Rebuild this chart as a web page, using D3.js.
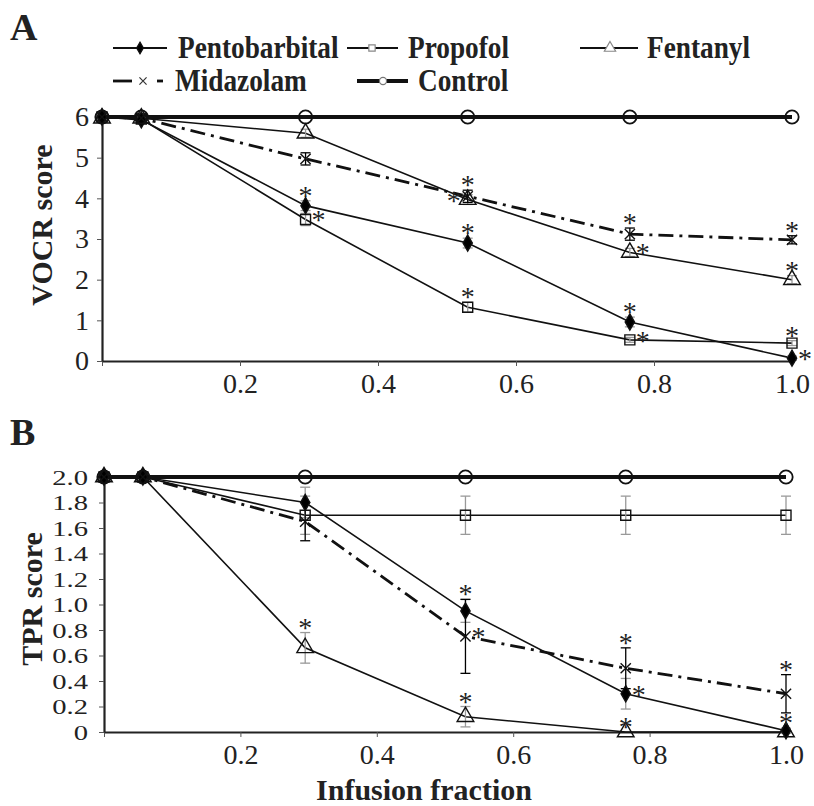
<!DOCTYPE html>
<html>
<head>
<meta charset="utf-8">
<script src="https://cdn.jsdelivr.net/npm/d3@7"></script>
<style>
  body { margin: 0; background: #fff; }
  svg { display: block; font-family: "Liberation Serif", "Times New Roman", serif; }
</style>
</head>
<body>
<svg id="chart" width="814" height="806"></svg>
<script>
// Infusion fractions (x positions shared by both panels)
const infusionFraction = [0, 0.057, 0.295, 0.53, 0.765, 1.0];
const seriesNames = ["Pentobarbital", "Propofol", "Fentanyl", "Midazolam", "Control"];

// Panel A — VOCR score (means, error)
const vocrPentobarbital = [6, 5.93, 3.82, 2.9, 0.96, 0.07];
const vocrPropofol      = [6, 5.95, 3.48, 1.32, 0.52, 0.44];
const vocrFentanyl      = [5.97, 5.97, 5.6, 3.97, 2.67, 2.0];
const vocrMidazolam     = [6, 5.97, 4.97, 4.05, 3.12, 2.98];
const vocrControl       = [6, 6, 6, 6, 6, 6];

const vocrErrPentobarbital = [0, 0.05, 0.12, 0.12, 0.12, 0.05];
const vocrErrPropofol      = [0, 0.05, 0.15, 0.12, 0.06, 0.06];
const vocrErrFentanyl      = [0, 0, 0.1, 0.12, 0.1, 0.1];
const vocrErrMidazolam     = [0, 0, 0.15, 0.15, 0.15, 0.1];

// significance marks: where the * sits relative to each point
const vocrStarPentobarbital = [null, null, "above", "above", "above", "right"];
const vocrStarPropofol      = [null, null, "right", "above", "right", "above"];
const vocrStarFentanyl      = [null, null, null, "left", "right", "above"];
const vocrStarMidazolam     = [null, null, null, "above", "above", "above"];

// Panel B — TPR score
const tprPentobarbital = [2, 2, 1.8, 0.95, 0.3, 0.01];
const tprPropofol      = [2, 2, 1.7, 1.7, 1.7, 1.7];
const tprFentanyl      = [2, 2, 0.66, 0.12, 0.0, 0.0];
const tprMidazolam     = [2, 2, 1.65, 0.75, 0.5, 0.3];
const tprControl       = [2, 2, 2, 2, 2, 2];

const tprErrPentobarbital = [0, 0, 0.12, 0.09, 0.12, 0.02];
const tprErrPropofol      = [0, 0, 0.15, 0.15, 0.15, 0.15];
const tprErrFentanyl      = [0, 0, 0.12, 0.08, 0, 0];
const tprErrMidazolam     = [0, 0, 0.15, 0.29, 0.16, 0.15];

const tprStarPentobarbital = [null, null, null, "above", "right", "above"];
const tprStarPropofol      = [null, null, null, null, null, null];
const tprStarFentanyl      = [null, null, "above", "above", "above", null];
const tprStarMidazolam     = [null, null, null, "right", "above", "above"];

const xTicks = [0, 0.2, 0.4, 0.6, 0.8, 1.0];
const vocrTicks = [0, 1, 2, 3, 4, 5, 6];
const tprTicks = [0, 0.2, 0.4, 0.6, 0.8, 1.0, 1.2, 1.4, 1.6, 1.8, 2.0];

const svg = d3.select("#chart");

// Series styles
const style = {
  Pentobarbital: { symbol: d3.symbolDiamond, size: 75, fill: "#000", width: 1.6, dash: null, err: "#999" },
  Propofol:      { symbol: d3.symbolSquare, size: 100, fill: "none", width: 1.6, dash: null, err: "#999" },
  Fentanyl:      { symbol: d3.symbolTriangle, size: 120, fill: "none", width: 1.6, dash: null, err: "#999" },
  Midazolam:     { symbol: d3.symbolX, size: 70, fill: "none", width: 2.8, dash: "15,6,3,6", err: "#000" },
  Control:       { symbol: d3.symbolCircle, size: 140, fill: "none", width: 4, dash: null, err: "#999" }
};

function buildSeries(vals, errs, stars) {
  return seriesNames.map((name, i) => ({
    name,
    values: infusionFraction.map((x, j) => ({
      x, y: vals[i][j], e: errs[i] ? errs[i][j] : 0, star: stars[i] ? stars[i][j] : null
    }))
  }));
}

function drawPanel(opts) {
  const { x, y, series, yTicks, yFormat, yFont, label } = opts;
  const g = svg.append("g");

  // axes
  const xAxis = d3.axisBottom(x).tickValues(xTicks).tickSize(5).tickSizeOuter(0).tickPadding(7)
    .tickFormat(d => d === 0 ? "" : d3.format(".1f")(d));
  const gx = g.append("g").attr("transform", `translate(0,${y.range()[0]})`).call(xAxis);
  gx.selectAll("text").attr("font-size", 28).attr("font-family", "Liberation Serif").attr("fill", "#222");

  const yAxis = d3.axisLeft(y).tickValues(yTicks).tickSize(5).tickSizeOuter(0).tickPadding(opts.yPad)
    .tickFormat(yFormat);
  const gy = g.append("g").attr("transform", `translate(${x.range()[0]},0)`).call(yAxis);
  // labels may be stretched horizontally (panel B uses tight, wide digits)
  const sx = opts.yStretch || 1;
  gy.selectAll(".tick text")
    .attr("font-size", yFont).attr("font-family", "Liberation Serif").attr("fill", "#222")
    .attr("x", -(5 + opts.yPad) / sx)
    .attr("transform", `scale(${sx},1)`);

  [gx, gy].forEach(a => {
    a.select(".domain").attr("stroke", "#222").attr("stroke-width", 2.2);
    a.selectAll(".tick line").attr("stroke", "#555").attr("stroke-width", 1);
  });

  // axis title
  g.append("text")
    .attr("transform", `translate(${opts.titleX},${opts.titleY}) rotate(-90)`)
    .attr("text-anchor", "middle")
    .attr("font-weight", "bold").attr("font-size", 30).attr("fill", "#222")
    .text(opts.title);

  // panel letter
  g.append("text").attr("x", 10).attr("y", opts.letterY)
    .attr("font-weight", "bold").attr("font-size", 38).attr("fill", "#222").text(label);

  const line = d3.line().x(d => x(d.x)).y(d => y(d.y));

  const order = ["Fentanyl", "Propofol", "Pentobarbital", "Midazolam", "Control"];
  const sorted = order.map(n => series.find(s => s.name === n));

  // lines
  g.selectAll(".series")
    .data(sorted)
    .join("path")
    .attr("class", "series")
    .attr("d", d => line(d.values))
    .attr("fill", "none")
    .attr("stroke", "#111")
    .attr("stroke-width", d => style[d.name].width)
    .attr("stroke-dasharray", d => style[d.name].dash);

  // error bars
  sorted.forEach(s => {
    const st = style[s.name];
    const withErr = s.values.filter(d => d.e > 0);
    const eg = g.append("g").attr("stroke", st.err).attr("stroke-width", 1.3);
    eg.selectAll(".bar").data(withErr).join("line")
      .attr("x1", d => x(d.x)).attr("x2", d => x(d.x))
      .attr("y1", d => y(d.y - d.e)).attr("y2", d => y(d.y + d.e));
    eg.selectAll(".capT").data(withErr).join("line")
      .attr("x1", d => x(d.x) - 5).attr("x2", d => x(d.x) + 5)
      .attr("y1", d => y(d.y + d.e)).attr("y2", d => y(d.y + d.e));
    eg.selectAll(".capB").data(withErr).join("line")
      .attr("x1", d => x(d.x) - 5).attr("x2", d => x(d.x) + 5)
      .attr("y1", d => y(d.y - d.e)).attr("y2", d => y(d.y - d.e));
  });

  // markers
  sorted.forEach(s => {
    const st = style[s.name];
    g.append("g").selectAll("path").data(s.values).join("path")
      .attr("transform", d => `translate(${x(d.x)},${y(d.y)})`)
      .attr("d", d3.symbol(st.symbol, st.size))
      .attr("fill", st.fill)
      .attr("stroke", "#111")
      .attr("stroke-width", s.name === "Control" ? 1.8 : 1.4);
  });

  // asterisks
  sorted.forEach(s => {
    const pts = s.values.filter(d => d.star);
    g.append("g").selectAll("text").data(pts).join("text")
      .attr("text-anchor", "middle")
      .attr("font-size", 28).attr("fill", "#222")
      .attr("x", d => d.star === "right" ? x(d.x) + 13 : d.star === "left" ? x(d.x) - 14 : x(d.x))
      .attr("y", d => {
        const cy = d.star === "above" ? y(d.y + d.e) - 9 : y(d.y) - 3;
        return cy + 13;
      })
      .text("*");
  });
}

// Panel A
const xA = d3.scaleLinear().domain([0, 1]).range([102, 792]);
const yA = d3.scaleLinear().domain([0, 6]).range([361, 117]);
drawPanel({
  x: xA, y: yA,
  series: buildSeries(
    [vocrPentobarbital, vocrPropofol, vocrFentanyl, vocrMidazolam, vocrControl],
    [vocrErrPentobarbital, vocrErrPropofol, vocrErrFentanyl, vocrErrMidazolam, null],
    [vocrStarPentobarbital, vocrStarPropofol, vocrStarFentanyl, vocrStarMidazolam, null]),
  yTicks: vocrTicks, yFormat: d3.format("d"), yFont: 28, yPad: 8,
  title: "VOCR score", titleX: 52, titleY: 225, label: "A", letterY: 40
});

// Panel B
const xB = d3.scaleLinear().domain([0, 1]).range([104, 786]);
const yB = d3.scaleLinear().domain([0, 2]).range([732, 477]);
drawPanel({
  x: xB, y: yB,
  series: buildSeries(
    [tprPentobarbital, tprPropofol, tprFentanyl, tprMidazolam, tprControl],
    [tprErrPentobarbital, tprErrPropofol, tprErrFentanyl, tprErrMidazolam, null],
    [tprStarPentobarbital, tprStarPropofol, tprStarFentanyl, tprStarMidazolam, null]),
  yTicks: tprTicks, yFormat: d => d === 0 ? "0" : d3.format(".1f")(d), yFont: 22, yPad: 11, yStretch: 1.3,
  title: "TPR score", titleX: 42, titleY: 599, label: "B", letterY: 445
});

// x axis title
svg.append("text").attr("x", 424).attr("y", 800).attr("text-anchor", "middle")
  .attr("font-weight", "bold").attr("font-size", 30).attr("fill", "#222")
  .text("Infusion fraction");

// Legend
const legendItems = [
  { name: "Pentobarbital", x1: 113, x2: 167, tx: 178, row: 0, mk: 140, size: 40, mcolor: "#111" },
  { name: "Propofol", x1: 347, x2: 398, tx: 408, row: 0, mk: 372, size: 40, mcolor: "#888" },
  { name: "Fentanyl", x1: 580, x2: 638, tx: 647, row: 0, mk: 610, size: 55, mcolor: "#888" },
  { name: "Midazolam", x1: 113, x2: 163, tx: 175, row: 1, mk: 143, size: 35, mcolor: "#333" },
  { name: "Control", x1: 357, x2: 408, tx: 418, row: 1, mk: 383, size: 40, mcolor: "#777" }
];
const rowY = [48, 81];
const legend = svg.append("g");
legendItems.forEach(it => {
  const st = style[it.name];
  const ly = rowY[it.row];
  if (it.name === "Midazolam") {
    legend.append("line").attr("x1", it.x1).attr("x2", it.x1 + 19).attr("y1", ly).attr("y2", ly)
      .attr("stroke", "#111").attr("stroke-width", 2.8);
    legend.append("line").attr("x1", it.x2 - 6).attr("x2", it.x2).attr("y1", ly).attr("y2", ly)
      .attr("stroke", "#111").attr("stroke-width", 2.8);
  } else {
    legend.append("line").attr("x1", it.x1).attr("x2", it.x2).attr("y1", ly).attr("y2", ly)
      .attr("stroke", "#111").attr("stroke-width", it.name === "Control" ? 4 : 2);
  }
  legend.append("path")
    .attr("transform", `translate(${it.mk},${ly})`)
    .attr("d", d3.symbol(st.symbol, it.size))
    .attr("fill", st.fill === "none" ? "#fff" : st.fill)
    .attr("stroke", it.mcolor).attr("stroke-width", 1.2);
  // legend type is tall and narrow in the reference
  legend.append("text")
    .attr("transform", `translate(${it.tx},${ly + 10}) scale(0.88,1)`)
    .attr("font-weight", "bold").attr("font-size", 31).attr("fill", "#222")
    .text(it.name);
});
</script>
</body>
</html>
